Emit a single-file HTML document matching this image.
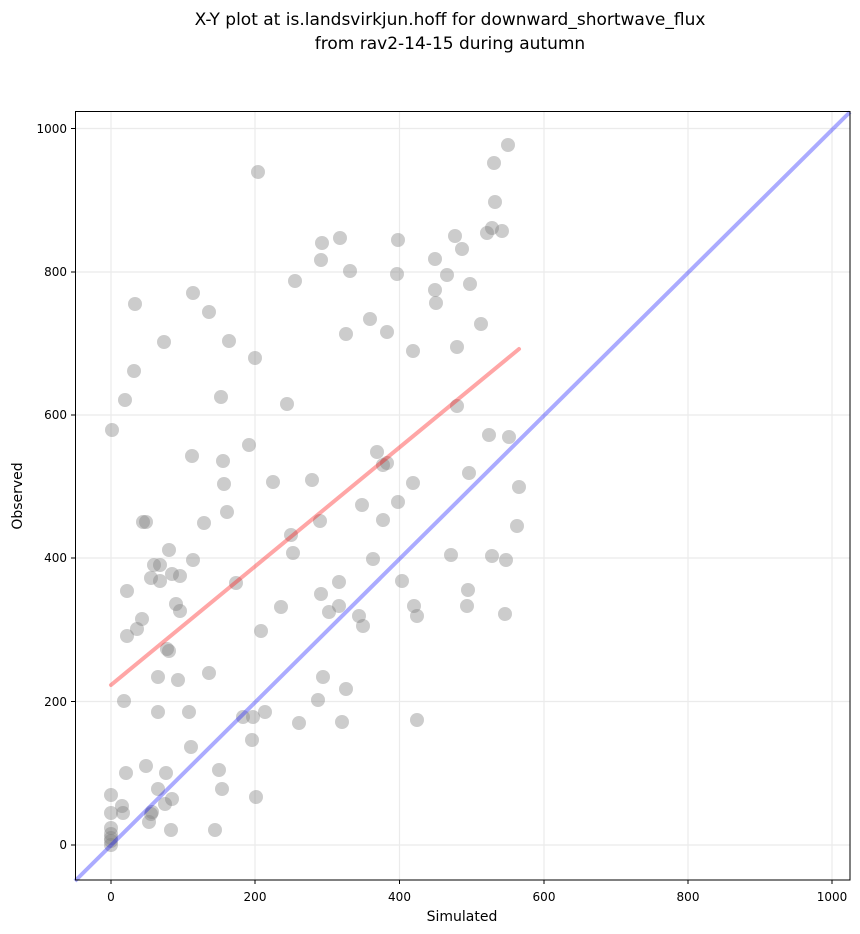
<!DOCTYPE html>
<html><head><meta charset="utf-8"><style>body{margin:0;background:#fff}svg{display:block}text{font-family:"DejaVu Sans","Liberation Sans",sans-serif;fill:#000}</style></head><body>
<svg width="860" height="934" viewBox="0 0 860 934">
<text x="450" y="25" font-size="17" text-anchor="middle">X-Y plot at is.landsvirkjun.hoff for downward_shortwave_flux</text>
<text x="450" y="49" font-size="17" text-anchor="middle">from rav2-14-15 during autumn</text>
<g stroke="#ebebeb" stroke-width="1.2">
<line x1="111" y1="111" x2="111" y2="880"/><line x1="255" y1="111" x2="255" y2="880"/><line x1="399.5" y1="111" x2="399.5" y2="880"/><line x1="544" y1="111" x2="544" y2="880"/><line x1="688" y1="111" x2="688" y2="880"/><line x1="832" y1="111" x2="832" y2="880"/>
<line x1="75" y1="845" x2="850" y2="845"/><line x1="75" y1="701.5" x2="850" y2="701.5"/><line x1="75" y1="558" x2="850" y2="558"/><line x1="75" y1="415" x2="850" y2="415"/><line x1="75" y1="272" x2="850" y2="272"/><line x1="75" y1="128.5" x2="850" y2="128.5"/>
</g>
<g fill="#7f7f7f" fill-opacity="0.4">
<circle cx="258" cy="172" r="7"/><circle cx="322" cy="243" r="7"/><circle cx="321" cy="260" r="7"/><circle cx="295" cy="281" r="7"/><circle cx="193" cy="293" r="7"/><circle cx="135" cy="304" r="7"/><circle cx="209" cy="312" r="7"/><circle cx="164" cy="342" r="7"/><circle cx="229" cy="341" r="7"/><circle cx="255" cy="358" r="7"/><circle cx="134" cy="371" r="7"/><circle cx="125" cy="400" r="7"/><circle cx="221" cy="397" r="7"/><circle cx="287" cy="404" r="7"/><circle cx="112" cy="430" r="7"/><circle cx="249" cy="445" r="7"/><circle cx="192" cy="456" r="7"/><circle cx="223" cy="461" r="7"/><circle cx="224" cy="484" r="7"/><circle cx="273" cy="482" r="7"/><circle cx="312" cy="480" r="7"/>
<circle cx="227" cy="512" r="7"/><circle cx="143" cy="522" r="7"/><circle cx="146" cy="522" r="7"/><circle cx="204" cy="523" r="7"/><circle cx="320" cy="521" r="7"/><circle cx="291" cy="535" r="7"/><circle cx="293" cy="553" r="7"/><circle cx="169" cy="550" r="7"/><circle cx="193" cy="560" r="7"/><circle cx="154" cy="565" r="7"/><circle cx="160" cy="565" r="7"/><circle cx="172" cy="574" r="7"/><circle cx="180" cy="576" r="7"/><circle cx="151" cy="578" r="7"/><circle cx="160" cy="581" r="7"/><circle cx="236" cy="583" r="7"/><circle cx="127" cy="591" r="7"/><circle cx="321" cy="594" r="7"/><circle cx="176" cy="604" r="7"/><circle cx="180" cy="611" r="7"/><circle cx="281" cy="607" r="7"/><circle cx="142" cy="619" r="7"/><circle cx="137" cy="629" r="7"/><circle cx="127" cy="636" r="7"/><circle cx="261" cy="631" r="7"/><circle cx="167" cy="649" r="7"/><circle cx="169" cy="651" r="7"/><circle cx="158" cy="677" r="7"/><circle cx="178" cy="680" r="7"/><circle cx="209" cy="673" r="7"/><circle cx="323" cy="677" r="7"/><circle cx="124" cy="701" r="7"/><circle cx="318" cy="700" r="7"/><circle cx="158" cy="712" r="7"/><circle cx="189" cy="712" r="7"/><circle cx="243" cy="717" r="7"/><circle cx="253" cy="717" r="7"/><circle cx="265" cy="712" r="7"/><circle cx="299" cy="723" r="7"/><circle cx="252" cy="740" r="7"/><circle cx="191" cy="747" r="7"/><circle cx="126" cy="773" r="7"/><circle cx="146" cy="766" r="7"/><circle cx="166" cy="773" r="7"/><circle cx="219" cy="770" r="7"/><circle cx="158" cy="789" r="7"/><circle cx="222" cy="789" r="7"/><circle cx="172" cy="799" r="7"/><circle cx="165" cy="804" r="7"/><circle cx="152" cy="812" r="7"/><circle cx="151" cy="814" r="7"/><circle cx="149" cy="822" r="7"/><circle cx="111" cy="795" r="7"/><circle cx="122" cy="806" r="7"/><circle cx="123" cy="813" r="7"/><circle cx="111" cy="813" r="7"/><circle cx="111" cy="828" r="7"/><circle cx="111" cy="834" r="7"/><circle cx="111" cy="838" r="7"/><circle cx="111" cy="841" r="7"/><circle cx="111" cy="845" r="7"/><circle cx="171" cy="830" r="7"/><circle cx="215" cy="830" r="7"/><circle cx="256" cy="797" r="7"/>
<circle cx="508" cy="145" r="7"/><circle cx="494" cy="163" r="7"/><circle cx="495" cy="202" r="7"/><circle cx="492" cy="228" r="7"/><circle cx="487" cy="233" r="7"/><circle cx="502" cy="231" r="7"/><circle cx="455" cy="236" r="7"/><circle cx="462" cy="249" r="7"/><circle cx="435" cy="259" r="7"/><circle cx="340" cy="238" r="7"/><circle cx="398" cy="240" r="7"/><circle cx="350" cy="271" r="7"/><circle cx="397" cy="274" r="7"/><circle cx="447" cy="275" r="7"/><circle cx="470" cy="284" r="7"/><circle cx="435" cy="290" r="7"/><circle cx="436" cy="303" r="7"/><circle cx="370" cy="319" r="7"/><circle cx="346" cy="334" r="7"/><circle cx="387" cy="332" r="7"/><circle cx="481" cy="324" r="7"/><circle cx="413" cy="351" r="7"/><circle cx="457" cy="347" r="7"/><circle cx="457" cy="406" r="7"/><circle cx="489" cy="435" r="7"/><circle cx="509" cy="437" r="7"/>
<circle cx="377" cy="452" r="7"/><circle cx="383" cy="465" r="7"/><circle cx="387" cy="463" r="7"/><circle cx="413" cy="483" r="7"/><circle cx="469" cy="473" r="7"/><circle cx="519" cy="487" r="7"/><circle cx="362" cy="505" r="7"/><circle cx="398" cy="502" r="7"/><circle cx="383" cy="520" r="7"/><circle cx="517" cy="526" r="7"/><circle cx="373" cy="559" r="7"/><circle cx="451" cy="555" r="7"/><circle cx="492" cy="556" r="7"/><circle cx="506" cy="560" r="7"/><circle cx="339" cy="582" r="7"/><circle cx="402" cy="581" r="7"/><circle cx="468" cy="590" r="7"/><circle cx="467" cy="606" r="7"/><circle cx="339" cy="606" r="7"/><circle cx="329" cy="612" r="7"/><circle cx="359" cy="616" r="7"/><circle cx="363" cy="626" r="7"/><circle cx="414" cy="606" r="7"/><circle cx="417" cy="616" r="7"/><circle cx="505" cy="614" r="7"/><circle cx="346" cy="689" r="7"/><circle cx="342" cy="722" r="7"/><circle cx="417" cy="720" r="7"/>
</g>
<line x1="111" y1="685" x2="519" y2="349" stroke="#ff0000" stroke-opacity="0.35" stroke-width="4" stroke-linecap="round"/>
<line x1="75" y1="881" x2="850" y2="112" stroke="#0000ff" stroke-opacity="0.33" stroke-width="4"/>
<rect x="75.5" y="111.5" width="774.5" height="768.5" fill="none" stroke="#000" stroke-width="1"/>
<g stroke="#000" stroke-width="1">
<line x1="111" y1="880" x2="111" y2="884"/><line x1="255" y1="880" x2="255" y2="884"/><line x1="399.5" y1="880" x2="399.5" y2="884"/><line x1="544" y1="880" x2="544" y2="884"/><line x1="688" y1="880" x2="688" y2="884"/><line x1="832" y1="880" x2="832" y2="884"/>
<line x1="71" y1="845" x2="75" y2="845"/><line x1="71" y1="701.5" x2="75" y2="701.5"/><line x1="71" y1="558" x2="75" y2="558"/><line x1="71" y1="415" x2="75" y2="415"/><line x1="71" y1="272" x2="75" y2="272"/><line x1="71" y1="128.5" x2="75" y2="128.5"/>
</g>
<g font-size="12" text-anchor="middle">
<text x="111" y="901">0</text><text x="255" y="901">200</text><text x="399.5" y="901">400</text><text x="544" y="901">600</text><text x="688" y="901">800</text><text x="832" y="901">1000</text>
</g>
<g font-size="12" text-anchor="end">
<text x="67" y="849">0</text><text x="67" y="706">200</text><text x="67" y="562">400</text><text x="67" y="419">600</text><text x="67" y="276">800</text><text x="67" y="133">1000</text>
</g>
<text x="462" y="921" font-size="14" text-anchor="middle">Simulated</text>
<text x="0" y="0" font-size="14" text-anchor="middle" transform="translate(22,496) rotate(-90)">Observed</text>
</svg>
</body></html>
